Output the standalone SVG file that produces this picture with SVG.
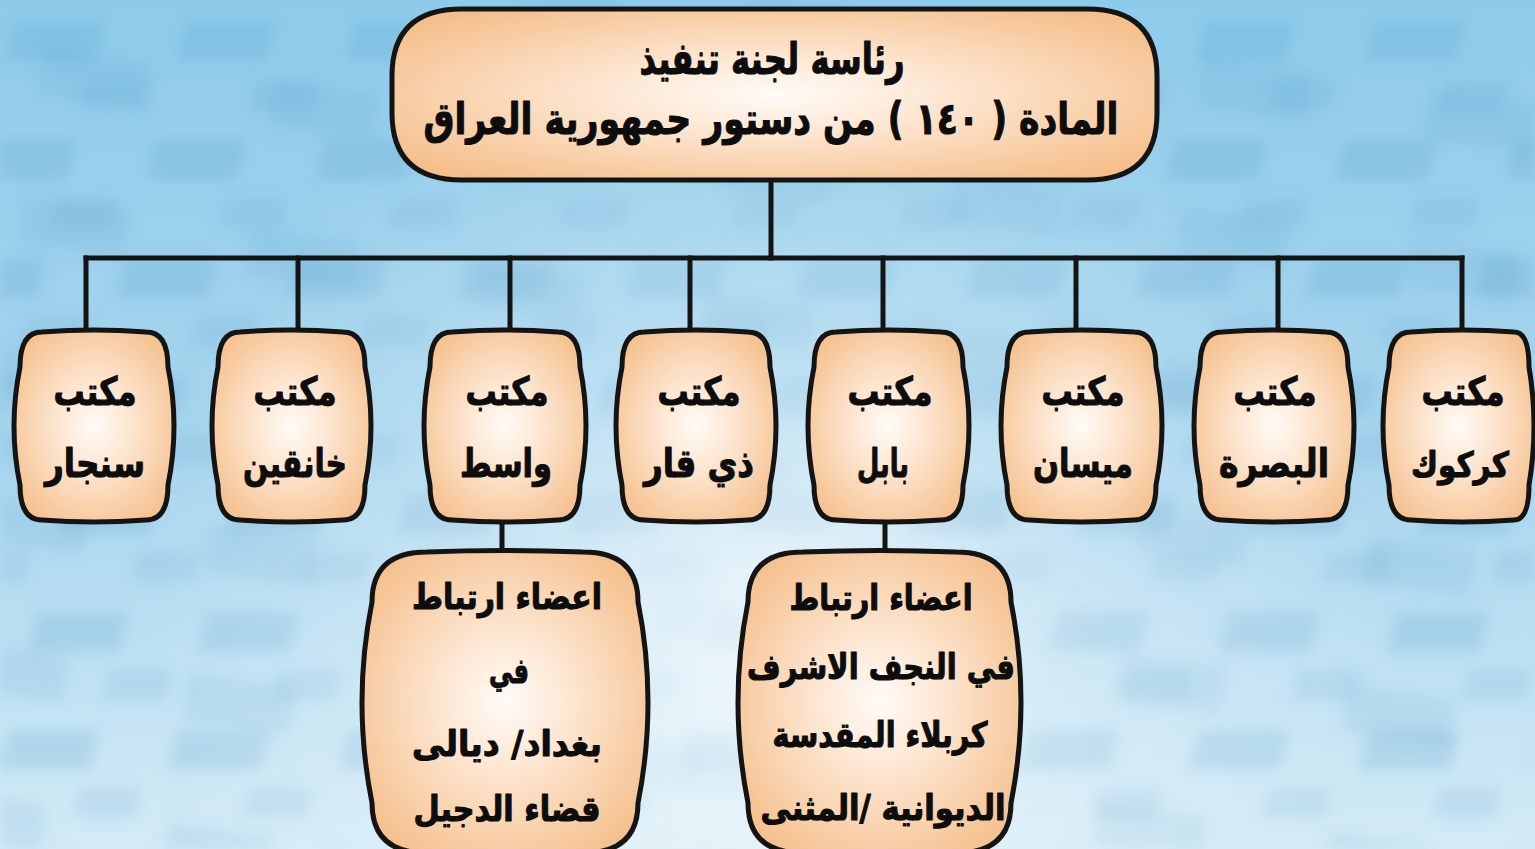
<svg xmlns="http://www.w3.org/2000/svg" width="1535" height="849" viewBox="0 0 1535 849">
  <defs>
    <linearGradient id="bg" x1="0" y1="0" x2="0" y2="1">
      <stop offset="0" stop-color="#8ecbeb"/>
      <stop offset="0.55" stop-color="#a9d6ee"/>
      <stop offset="1" stop-color="#d3ebf6"/>
    </linearGradient>
    <radialGradient id="glow" cx="770" cy="640" r="620" gradientUnits="userSpaceOnUse">
      <stop offset="0" stop-color="#ffffff" stop-opacity="0.75"/>
      <stop offset="0.5" stop-color="#ffffff" stop-opacity="0.25"/>
      <stop offset="1" stop-color="#ffffff" stop-opacity="0"/>
    </radialGradient>
    <pattern id="tiles" width="170" height="118" patternUnits="userSpaceOnUse" patternTransform="skewX(-14)">
      <rect x="20" y="22" width="92" height="40" rx="4" fill="#4f97c6" opacity="0.2"/>
      <rect x="105" y="80" width="70" height="30" rx="4" fill="#4f97c6" opacity="0.14"/>
    </pattern>
    <pattern id="tiles2" width="230" height="150" patternUnits="userSpaceOnUse" patternTransform="rotate(8) translate(40 30)">
      <rect x="10" y="10" width="110" height="48" rx="6" fill="#4f97c6" opacity="0.12"/>
    </pattern>
    <filter id="soft" x="0" y="0" width="1" height="1">
      <feGaussianBlur stdDeviation="7"/>
    </filter>
    <radialGradient id="peach" cx="50%" cy="50%" r="62%">
      <stop offset="0" stop-color="#fffbf7"/>
      <stop offset="0.35" stop-color="#fde7d3"/>
      <stop offset="1" stop-color="#f5bf8b"/>
    </radialGradient>
    <style>
      .box { fill: url(#peach); stroke: #141414; stroke-width: 5; stroke-linejoin: round; }
      .conn { fill: none; stroke: #141414; stroke-width: 5; stroke-linecap: square; }
      text { font-family: "DejaVu Sans", "Noto Sans", sans-serif; font-weight: bold; fill: #0d0d0d; stroke: #0d0d0d; stroke-width: 1.1; stroke-linejoin: round; text-anchor: middle; direction: rtl; }
      .t1 { font-size: 44px; }
      .t2 { font-size: 39px; }
      .t3 { font-size: 35px; }
      .t2s { font-size: 35px; }
    </style>
  </defs>

  <!-- background -->
  <rect width="1535" height="849" fill="url(#bg)"/>
  <rect width="1535" height="849" fill="url(#tiles)" filter="url(#soft)"/>
  <rect width="1535" height="849" fill="url(#tiles2)" filter="url(#soft)"/>
  <rect width="1535" height="849" fill="url(#glow)"/>

  <!-- connectors -->
  <g id="connectors">
    <path class="conn" d="M771 180 V258"/>
    <path class="conn" d="M86 258 H1462"/>
    <path class="conn" d="M86 258 V332"/>
    <path class="conn" d="M298 258 V332"/>
    <path class="conn" d="M510 258 V332"/>
    <path class="conn" d="M690 258 V332"/>
    <path class="conn" d="M883 258 V332"/>
    <path class="conn" d="M1076 258 V332"/>
    <path class="conn" d="M1278 258 V332"/>
    <path class="conn" d="M1462 258 V332"/>
    <path class="conn" d="M502 520 V552"/>
    <path class="conn" d="M885 520 V552"/>
  </g>

  <!-- top node -->
  <g id="node-head">
    <path class="box" d="M462 9 H1087 Q1157 9 1157 76 V113 Q1157 180 1087 180 H462 Q392 180 392 113 V76 Q392 9 462 9 Z"/>
    <text class="t1" x="772" y="74" textLength="265" lengthAdjust="spacingAndGlyphs">رئاسة لجنة تنفيذ</text>
    <text class="t1" x="771" y="134" textLength="695" lengthAdjust="spacingAndGlyphs">المادة ( ١٤٠ ) من دستور جمهورية العراق</text>
  </g>

  <!-- office nodes -->
  <g id="node-sinjar">
    <path class="box" d="M42 332 Q94 328 146 332 Q168 332 168 367 Q180 426 168 485 Q168 520 146 520 Q94 524 42 520 Q20 520 20 485 Q8 426 20 367 Q20 332 42 332 Z"/>
    <text class="t2" x="95" y="405" textLength="83" lengthAdjust="spacingAndGlyphs">مكتب</text>
    <text class="t2" x="95" y="477" textLength="100" lengthAdjust="spacingAndGlyphs">سنجار</text>
  </g>
  <g id="node-khanaqin">
    <path class="box" d="M240 332 Q291 328 343 332 Q365 332 365 367 Q377 426 365 485 Q365 520 343 520 Q291 524 240 520 Q218 520 218 485 Q206 426 218 367 Q218 332 240 332 Z"/>
    <text class="t2" x="295" y="405" textLength="83" lengthAdjust="spacingAndGlyphs">مكتب</text>
    <text class="t2" x="295" y="477" textLength="104" lengthAdjust="spacingAndGlyphs">خانقين</text>
  </g>
  <g id="node-wasit">
    <path class="box" d="M452 332 Q505 328 558 332 Q580 332 580 367 Q592 426 580 485 Q580 520 558 520 Q505 524 452 520 Q430 520 430 485 Q418 426 430 367 Q430 332 452 332 Z"/>
    <text class="t2" x="507" y="405" textLength="83" lengthAdjust="spacingAndGlyphs">مكتب</text>
    <text class="t2" x="506" y="477" textLength="92" lengthAdjust="spacingAndGlyphs">واسط</text>
  </g>
  <g id="node-dhiqar">
    <path class="box" d="M644 332 Q696 328 748 332 Q770 332 770 367 Q782 426 770 485 Q770 520 748 520 Q696 524 644 520 Q622 520 622 485 Q610 426 622 367 Q622 332 644 332 Z"/>
    <text class="t2" x="699" y="405" textLength="83" lengthAdjust="spacingAndGlyphs">مكتب</text>
    <text class="t2" x="699" y="477" textLength="110" lengthAdjust="spacingAndGlyphs">ذي قار</text>
  </g>
  <g id="node-babil">
    <path class="box" d="M836 332 Q888 328 941 332 Q963 332 963 367 Q975 426 963 485 Q963 520 941 520 Q888 524 836 520 Q814 520 814 485 Q802 426 814 367 Q814 332 836 332 Z"/>
    <text class="t2" x="890" y="405" textLength="85" lengthAdjust="spacingAndGlyphs">مكتب</text>
    <text class="t2" x="883" y="477" textLength="52" lengthAdjust="spacingAndGlyphs">بابل</text>
  </g>
  <g id="node-maysan">
    <path class="box" d="M1029 332 Q1081 328 1134 332 Q1156 332 1156 367 Q1168 426 1156 485 Q1156 520 1134 520 Q1081 524 1029 520 Q1007 520 1007 485 Q995 426 1007 367 Q1007 332 1029 332 Z"/>
    <text class="t2" x="1083" y="405" textLength="83" lengthAdjust="spacingAndGlyphs">مكتب</text>
    <text class="t2" x="1083" y="477" textLength="100" lengthAdjust="spacingAndGlyphs">ميسان</text>
  </g>
  <g id="node-basra">
    <path class="box" d="M1222 332 Q1274 328 1326 332 Q1348 332 1348 367 Q1360 426 1348 485 Q1348 520 1326 520 Q1274 524 1222 520 Q1200 520 1200 485 Q1188 426 1200 367 Q1200 332 1222 332 Z"/>
    <text class="t2" x="1275" y="405" textLength="83" lengthAdjust="spacingAndGlyphs">مكتب</text>
    <text class="t2" x="1274" y="477" textLength="110" lengthAdjust="spacingAndGlyphs">البصرة</text>
  </g>
  <g id="node-kirkuk">
    <path class="box" d="M1411 332 Q1462 328 1514 332 Q1529 332 1529 367 Q1539 426 1529 485 Q1529 520 1514 520 Q1462 524 1411 520 Q1389 520 1389 485 Q1377 426 1389 367 Q1389 332 1411 332 Z"/>
    <text class="t2" x="1463" y="405" textLength="83" lengthAdjust="spacingAndGlyphs">مكتب</text>
    <text class="t2s" x="1460" y="477" textLength="98" lengthAdjust="spacingAndGlyphs">كركوك</text>
  </g>

  <!-- liaison nodes -->
  <g id="node-liaison-wasit">
    <path class="box" d="M427 552 Q505 549 583 552 Q638 552 638 602 Q658 702 638 803 Q638 853 583 853 H427 Q372 853 372 803 Q352 702 372 602 Q372 552 427 552 Z"/>
    <text class="t3" x="507" y="609" textLength="190" lengthAdjust="spacingAndGlyphs">اعضاء ارتباط</text>
    <text class="t3" x="509" y="683" textLength="40" lengthAdjust="spacingAndGlyphs">في</text>
    <text class="t3" x="507" y="756" textLength="190" lengthAdjust="spacingAndGlyphs">بغداد/ ديالى</text>
    <text class="t3" x="507" y="821" textLength="187" lengthAdjust="spacingAndGlyphs">قضاء الدجيل</text>
  </g>
  <g id="node-liaison-babil">
    <path class="box" d="M803 552 Q879 549 956 552 Q1011 552 1011 602 Q1031 702 1011 803 Q1011 853 956 853 H803 Q748 853 748 803 Q728 702 748 602 Q748 552 803 552 Z"/>
    <text class="t3" x="881" y="610" textLength="183" lengthAdjust="spacingAndGlyphs">اعضاء ارتباط</text>
    <text class="t3" x="881" y="679" textLength="268" lengthAdjust="spacingAndGlyphs">في النجف الاشرف</text>
    <text class="t3" x="880" y="747" textLength="215" lengthAdjust="spacingAndGlyphs">كربلاء المقدسة</text>
    <text class="t3" x="883" y="820" textLength="245" lengthAdjust="spacingAndGlyphs">الديوانية /المثنى</text>
  </g>
</svg>
